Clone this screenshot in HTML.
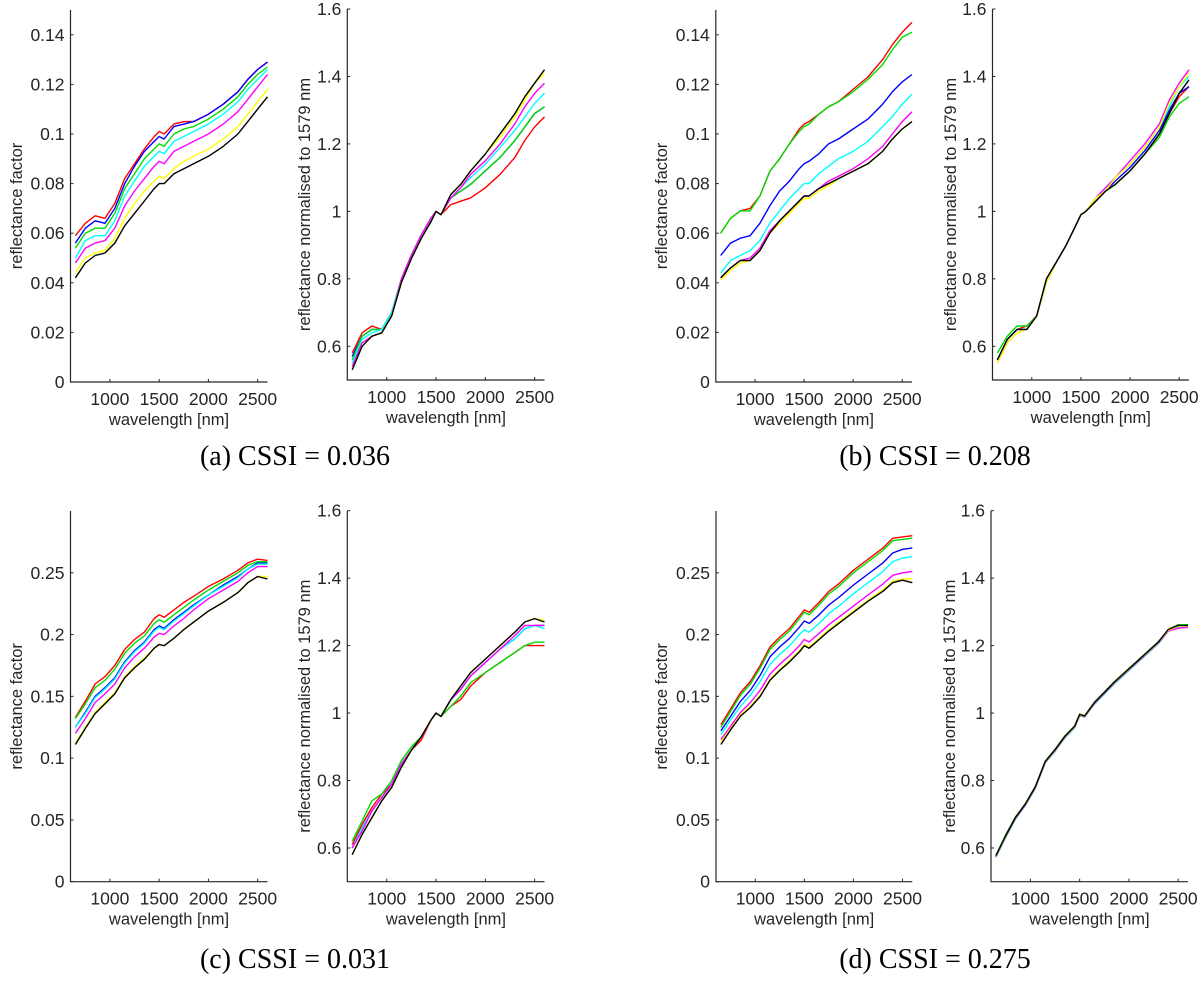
<!DOCTYPE html>
<html><head><meta charset="utf-8"><style>
body{margin:0;background:#fff;}
svg{display:block;}
text{font-family:"Liberation Sans",sans-serif;fill:#262626;}
.cap{font-family:"Liberation Serif",serif;font-size:28px;fill:#000;}
</style></head><body>
<svg id="fig" width="1200" height="982" viewBox="0 0 1200 982" xmlns="http://www.w3.org/2000/svg"></svg>
<script>
const wavelengths=[650,750,850,950,1050,1150,1250,1350,1450,1500,1550,1650,1750,1850,2000,2150,2300,2400,2500,2600];
const seriesColors=['#ff0000','#0000ff','#00dd00','#00ffff','#ff00ff','#ffff00','#000000'];
const seriesNames=['red','blue','green','cyan','magenta','yellow','black'];
const xTicks=[1000,1500,2000,2500];
const ticksSmall=[0,0.02,0.04,0.06,0.08,0.1,0.12,0.14];
const ticksLarge=[0,0.05,0.1,0.15,0.2,0.25];
const ticksNorm=[0.6,0.8,1,1.2,1.4,1.6];
const captions=['(a) CSSI = 0.036','(b) CSSI = 0.208','(c) CSSI = 0.031','(d) CSSI = 0.275'];

const aRefl=[
[0.059,0.064,0.067,0.066,0.072,0.082,0.088,0.094,0.099,0.101,0.100,0.104,0.105,0.105,0.108,0.112,0.117,0.122,0.126,0.129],
[0.056,0.062,0.065,0.064,0.070,0.080,0.087,0.093,0.097,0.099,0.098,0.103,0.104,0.105,0.108,0.112,0.117,0.122,0.126,0.129],
[0.054,0.060,0.062,0.062,0.068,0.078,0.084,0.090,0.094,0.096,0.095,0.100,0.102,0.103,0.106,0.110,0.115,0.120,0.124,0.127],
[0.050,0.057,0.059,0.059,0.065,0.075,0.081,0.087,0.091,0.093,0.092,0.097,0.099,0.101,0.104,0.108,0.113,0.118,0.122,0.126],
[0.048,0.054,0.056,0.057,0.062,0.071,0.077,0.082,0.087,0.089,0.088,0.093,0.095,0.097,0.100,0.104,0.109,0.114,0.119,0.124],
[0.044,0.050,0.052,0.053,0.058,0.066,0.072,0.077,0.081,0.083,0.082,0.086,0.089,0.091,0.094,0.098,0.103,0.108,0.113,0.118],
[0.042,0.048,0.051,0.052,0.056,0.063,0.068,0.073,0.078,0.080,0.080,0.084,0.086,0.088,0.091,0.095,0.100,0.105,0.110,0.115]];
const aNorm=[
[0.58,0.64,0.66,0.65,0.70,0.80,0.87,0.93,0.98,1.00,0.99,1.02,1.03,1.04,1.07,1.11,1.16,1.21,1.25,1.28],
[0.57,0.63,0.65,0.65,0.70,0.80,0.87,0.93,0.98,1.00,0.99,1.04,1.06,1.08,1.12,1.16,1.21,1.25,1.29,1.31],
[0.56,0.63,0.65,0.65,0.70,0.80,0.87,0.93,0.98,1.00,0.99,1.04,1.06,1.08,1.12,1.16,1.21,1.25,1.29,1.31],
[0.55,0.62,0.64,0.65,0.70,0.80,0.87,0.93,0.98,1.00,0.99,1.04,1.07,1.10,1.14,1.19,1.24,1.28,1.32,1.35],
[0.54,0.61,0.63,0.64,0.69,0.80,0.87,0.93,0.98,1.00,0.99,1.04,1.07,1.11,1.15,1.20,1.26,1.31,1.35,1.38],
[0.53,0.60,0.63,0.64,0.69,0.79,0.86,0.92,0.97,1.00,0.99,1.05,1.08,1.12,1.17,1.22,1.28,1.33,1.38,1.41],
[0.53,0.60,0.63,0.64,0.69,0.79,0.86,0.92,0.97,1.00,0.99,1.05,1.08,1.12,1.17,1.23,1.29,1.34,1.38,1.42]];
const bRefl=[
[0.060,0.066,0.069,0.070,0.075,0.085,0.090,0.096,0.102,0.104,0.105,0.108,0.111,0.113,0.118,0.123,0.130,0.136,0.141,0.145],
[0.051,0.056,0.058,0.059,0.064,0.071,0.077,0.081,0.086,0.088,0.089,0.092,0.096,0.098,0.102,0.106,0.112,0.117,0.121,0.124],
[0.060,0.066,0.069,0.069,0.075,0.085,0.090,0.096,0.101,0.103,0.104,0.108,0.111,0.113,0.117,0.122,0.128,0.134,0.139,0.141],
[0.044,0.049,0.051,0.053,0.057,0.064,0.069,0.074,0.078,0.080,0.080,0.084,0.087,0.090,0.093,0.097,0.103,0.107,0.112,0.116],
[0.042,0.046,0.049,0.050,0.054,0.061,0.065,0.069,0.073,0.075,0.075,0.078,0.081,0.083,0.086,0.090,0.095,0.100,0.105,0.109],
[0.041,0.045,0.048,0.049,0.053,0.060,0.064,0.068,0.072,0.074,0.074,0.077,0.079,0.082,0.085,0.088,0.093,0.098,0.102,0.105],
[0.042,0.046,0.049,0.049,0.053,0.060,0.065,0.069,0.073,0.075,0.075,0.078,0.080,0.082,0.085,0.088,0.093,0.098,0.102,0.105]];
const bNorm=[
[0.56,0.62,0.65,0.66,0.69,0.80,0.85,0.90,0.96,0.99,1.00,1.03,1.06,1.08,1.12,1.17,1.23,1.29,1.34,1.37],
[0.56,0.62,0.65,0.65,0.69,0.80,0.85,0.90,0.96,0.99,1.00,1.03,1.06,1.09,1.13,1.18,1.24,1.30,1.35,1.37],
[0.58,0.63,0.66,0.66,0.69,0.80,0.85,0.90,0.96,0.99,1.00,1.03,1.06,1.08,1.12,1.17,1.22,1.28,1.32,1.34],
[0.56,0.62,0.65,0.65,0.69,0.79,0.85,0.90,0.96,0.99,1.00,1.04,1.07,1.10,1.14,1.19,1.25,1.31,1.37,1.40],
[0.55,0.61,0.64,0.65,0.69,0.79,0.85,0.90,0.96,0.99,1.00,1.04,1.07,1.10,1.15,1.20,1.26,1.33,1.38,1.42],
[0.55,0.61,0.64,0.65,0.69,0.79,0.85,0.90,0.96,0.99,1.00,1.04,1.06,1.10,1.14,1.19,1.25,1.32,1.37,1.41],
[0.56,0.62,0.65,0.65,0.69,0.80,0.85,0.90,0.96,0.99,1.00,1.03,1.06,1.08,1.12,1.17,1.23,1.29,1.35,1.39]];
const cRefl=[
[0.133,0.146,0.160,0.166,0.175,0.188,0.196,0.202,0.213,0.216,0.214,0.220,0.226,0.231,0.239,0.245,0.252,0.258,0.261,0.260],
[0.125,0.137,0.150,0.157,0.165,0.178,0.187,0.194,0.204,0.207,0.205,0.212,0.218,0.224,0.232,0.240,0.247,0.253,0.258,0.258],
[0.132,0.144,0.157,0.163,0.172,0.185,0.193,0.199,0.209,0.212,0.210,0.216,0.222,0.228,0.236,0.243,0.250,0.256,0.259,0.259],
[0.125,0.136,0.149,0.156,0.164,0.177,0.186,0.193,0.203,0.206,0.204,0.211,0.217,0.223,0.232,0.239,0.246,0.253,0.257,0.257],
[0.120,0.132,0.145,0.152,0.160,0.173,0.182,0.189,0.198,0.201,0.200,0.207,0.213,0.220,0.229,0.236,0.243,0.250,0.255,0.255],
[0.112,0.125,0.137,0.145,0.153,0.166,0.174,0.181,0.189,0.192,0.191,0.197,0.204,0.210,0.219,0.226,0.234,0.242,0.247,0.247],
[0.111,0.124,0.136,0.144,0.152,0.165,0.173,0.180,0.189,0.192,0.191,0.197,0.204,0.210,0.219,0.226,0.234,0.242,0.247,0.245]];
const cNorm=[
[0.61,0.67,0.72,0.76,0.79,0.85,0.89,0.92,0.98,1.00,0.99,1.02,1.04,1.08,1.12,1.15,1.18,1.20,1.20,1.20],
[0.60,0.66,0.71,0.75,0.79,0.85,0.89,0.93,0.98,1.00,0.99,1.04,1.07,1.11,1.15,1.19,1.22,1.25,1.26,1.26],
[0.62,0.68,0.74,0.76,0.80,0.86,0.90,0.93,0.98,1.00,0.99,1.02,1.05,1.09,1.12,1.15,1.18,1.20,1.21,1.21],
[0.60,0.66,0.71,0.75,0.79,0.85,0.89,0.93,0.98,1.00,0.99,1.04,1.07,1.11,1.15,1.19,1.22,1.25,1.26,1.25],
[0.60,0.65,0.71,0.75,0.79,0.85,0.89,0.93,0.98,1.00,0.99,1.04,1.07,1.11,1.15,1.19,1.23,1.26,1.26,1.26],
[0.58,0.64,0.69,0.74,0.78,0.84,0.89,0.93,0.98,1.00,0.99,1.04,1.08,1.12,1.16,1.20,1.24,1.27,1.28,1.275],
[0.58,0.64,0.69,0.74,0.78,0.84,0.89,0.93,0.98,1.00,0.99,1.04,1.08,1.12,1.16,1.20,1.24,1.27,1.28,1.27]];
const dRefl=[
[0.127,0.140,0.153,0.162,0.175,0.190,0.198,0.205,0.215,0.220,0.218,0.226,0.235,0.241,0.252,0.261,0.270,0.278,0.279,0.280],
[0.122,0.134,0.146,0.155,0.167,0.182,0.190,0.197,0.206,0.211,0.209,0.216,0.224,0.230,0.240,0.249,0.258,0.266,0.269,0.270],
[0.125,0.138,0.151,0.160,0.173,0.188,0.196,0.203,0.213,0.218,0.216,0.224,0.233,0.239,0.250,0.259,0.268,0.276,0.277,0.278],
[0.119,0.131,0.142,0.151,0.162,0.176,0.184,0.191,0.200,0.204,0.202,0.209,0.217,0.223,0.233,0.242,0.251,0.259,0.262,0.263],
[0.115,0.126,0.137,0.145,0.155,0.168,0.176,0.183,0.191,0.196,0.194,0.201,0.208,0.214,0.223,0.232,0.241,0.248,0.250,0.251],
[0.113,0.124,0.135,0.142,0.151,0.164,0.172,0.179,0.187,0.192,0.190,0.197,0.204,0.210,0.219,0.228,0.236,0.243,0.245,0.245],
[0.111,0.123,0.134,0.141,0.150,0.163,0.171,0.178,0.186,0.191,0.189,0.196,0.203,0.209,0.218,0.227,0.235,0.242,0.244,0.242]];
const dNorm=[
[0.578,0.638,0.692,0.732,0.782,0.857,0.892,0.932,0.962,0.997,0.992,1.032,1.062,1.092,1.132,1.172,1.212,1.247,1.262,1.262],
[0.575,0.635,0.690,0.730,0.780,0.855,0.890,0.930,0.960,0.995,0.990,1.030,1.060,1.090,1.130,1.170,1.210,1.245,1.258,1.258],
[0.578,0.640,0.692,0.732,0.782,0.857,0.892,0.932,0.962,0.997,0.992,1.032,1.062,1.092,1.132,1.172,1.212,1.247,1.262,1.262],
[0.572,0.632,0.686,0.726,0.776,0.852,0.886,0.926,0.956,0.992,0.988,1.026,1.056,1.086,1.126,1.166,1.206,1.242,1.256,1.256],
[0.574,0.634,0.688,0.728,0.778,0.853,0.888,0.928,0.958,0.993,0.989,1.028,1.058,1.088,1.128,1.168,1.208,1.243,1.252,1.254],
[0.576,0.636,0.690,0.730,0.780,0.855,0.890,0.930,0.960,0.995,0.990,1.030,1.060,1.090,1.130,1.170,1.210,1.245,1.258,1.258],
[0.577,0.637,0.691,0.731,0.781,0.856,0.891,0.931,0.961,0.996,0.991,1.031,1.061,1.091,1.131,1.171,1.211,1.248,1.260,1.260]];

const NS='http://www.w3.org/2000/svg';
const svg=document.getElementById('fig');
function mk(tag,attrs,parent){const e=document.createElementNS(NS,tag);for(const k in attrs)e.setAttribute(k,attrs[k]);(parent||svg).appendChild(e);return e;}

const panels=[
 {id:'a-left',x0:70.5,x1:267.5,yb:382,yt:10,ymin:0,ymax:0.15,ticks:ticksSmall,data:aRefl,ylab:'reflectance factor',ylx:16},
 {id:'a-right',x0:347.3,x1:544.5,yb:380,yt:9,ymin:0.5,ymax:1.6,ticks:ticksNorm,data:aNorm,ylab:'reflectance normalised to 1579 nm',ylx:304},
 {id:'b-left',x0:715.8,x1:912,yb:382,yt:10,ymin:0,ymax:0.15,ticks:ticksSmall,data:bRefl,ylab:'reflectance factor',ylx:661},
 {id:'b-right',x0:992.5,x1:1189,yb:380,yt:9,ymin:0.5,ymax:1.6,ticks:ticksNorm,data:bNorm,ylab:'reflectance normalised to 1579 nm',ylx:950},
 {id:'c-left',x0:70.5,x1:267.5,yb:881.7,yt:511,ymin:0,ymax:0.3,ticks:ticksLarge,data:cRefl,ylab:'reflectance factor',ylx:16},
 {id:'c-right',x0:347.3,x1:544.5,yb:881.7,yt:510.7,ymin:0.5,ymax:1.6,ticks:ticksNorm,data:cNorm,ylab:'reflectance normalised to 1579 nm',ylx:304},
 {id:'d-left',x0:716,x1:912.3,yb:881.7,yt:511,ymin:0,ymax:0.3,ticks:ticksLarge,data:dRefl,ylab:'reflectance factor',ylx:661},
 {id:'d-right',x0:991,x1:1188,yb:881.7,yt:510.7,ymin:0.5,ymax:1.6,ticks:ticksNorm,data:dNorm,ylab:'reflectance normalised to 1579 nm',ylx:949}
];

panels.forEach(p=>{
 const g=mk('g',{});
 
 
 const xs=v=>p.x0+(v-600)/(2600-600)*(p.x1-p.x0);
 const ys=v=>p.yb-(v-p.ymin)/(p.ymax-p.ymin)*(p.yb-p.yt);
 const ax=mk('path',{d:`M${p.x0},${p.yt}V${p.yb}H${p.x1}`,fill:'none',stroke:'#262626','stroke-width':1.2},g);
 
 
 xTicks.forEach(t=>{
  const x=xs(t);
  mk('line',{x1:x,x2:x,y1:p.yb,y2:p.yb-3,stroke:'#262626'},g);
  const tx=mk('text',{x:x,y:p.yb+23,'text-anchor':'middle','font-size':17.5},g);
  tx.textContent=t;
  
  
 });
 p.ticks.forEach(t=>{
  const y=ys(t);
  mk('line',{x1:p.x0,x2:p.x0+3,y1:y,y2:y,stroke:'#262626'},g);
  const tx=mk('text',{x:p.x0-6,y:y+6,'text-anchor':'end','font-size':17.5},g);
  tx.textContent=String(t);
  
  
 });
 const xl=mk('text',{x:(p.x0+p.x1)/2,y:p.yb+43,'text-anchor':'middle','font-size':16.5},g);
 xl.textContent='wavelength [nm]';
 
 
 const yc=(p.yt+p.yb)/2+10;
 const bx=p.ylx+6;
 const yl=mk('text',{x:bx,y:yc,'text-anchor':'middle','font-size':16.5,transform:`rotate(-90 ${bx} ${yc})`},g);
 yl.textContent=p.ylab;
 
 
 p.data.forEach((s,i)=>{
  const d=s.map((v,j)=>(j?'L':'M')+xs(wavelengths[j]).toFixed(1)+','+ys(v).toFixed(1)).join('');
  const ln=mk('path',{d:d,fill:'none',stroke:seriesColors[i],'stroke-width':1.4,'stroke-linejoin':'round'},g);
  
  
 });
});
[[295,465],[935,465],[295,968],[935,968]].forEach((c,i)=>{
 const t=mk('text',{x:c[0],y:c[1],'text-anchor':'middle',class:'cap'});
 t.textContent=captions[i];
 
 
});
</script>
</body></html>
